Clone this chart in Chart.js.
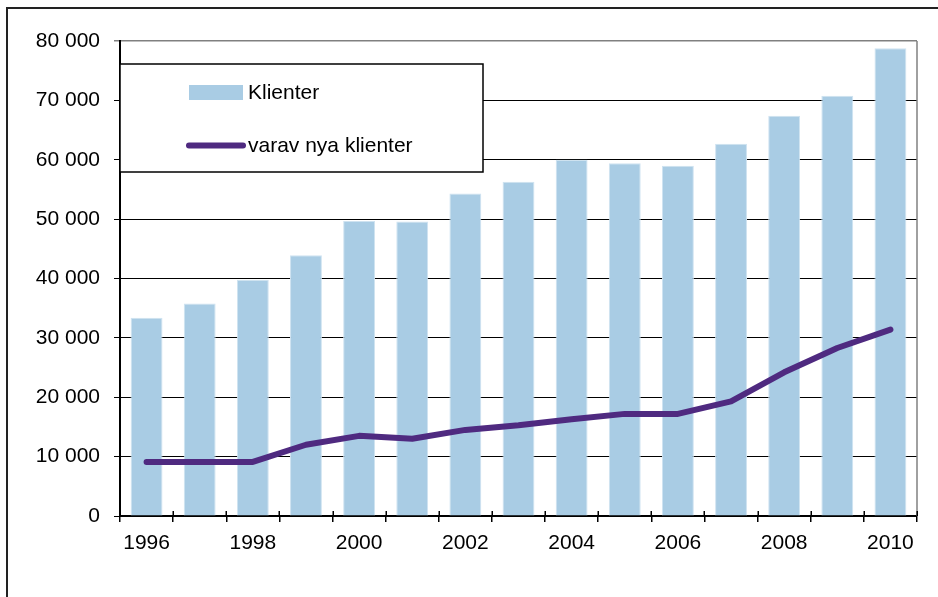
<!DOCTYPE html>
<html>
<head>
<meta charset="utf-8">
<script src="https://cdn.jsdelivr.net/npm/chart.js@4/dist/chart.umd.min.js"></script>
<style>
	html, body { margin: 0; padding: 0; background: #fff; }
	#wrap { width: 938px; height: 597px; }
</style>
</head>
<body>
<div id="wrap"><canvas id="chart" width="938" height="597"></canvas></div>
<script>
// Data
// ================================================================================
let years = ["1996", "1997", "1998", "1999", "2000", "2001", "2002", "2003",
	"2004", "2005", "2006", "2007", "2008", "2009", "2010"];

let klienter = [33400, 35800, 39800, 43900, 49700, 49600, 54300, 56300,
	60000, 59400, 59000, 62700, 67400, 70800, 78800];

let nya_klienter = [9100, 9100, 9100, 12000, 13500, 13000, 14500, 15300,
	16300, 17200, 17200, 19300, 24200, 28300, 31400];

let bar_color = "#a9cce4";
let line_color = "#4f2a80";
let font_family = "'Liberation Sans', Arial, sans-serif";

// Plugins
// ================================================================================
let frame_plugin = {
	id: "frame",
	afterDraw(chart) {
		let ctx = chart.ctx;
		let area = chart.chartArea;
		ctx.save();
		// outer frame, runs off the right and bottom edge
		ctx.strokeStyle = "#222";
		ctx.lineWidth = 2;
		ctx.strokeRect(7, 8, 1000, 1000);
		// grey plot border on the right
		ctx.strokeStyle = "#808080";
		ctx.lineWidth = 1.5;
		ctx.beginPath();
		ctx.moveTo(area.right, area.top);
		ctx.lineTo(area.right, area.bottom);
		ctx.stroke();
		// x tick marks cross the axis line
		ctx.strokeStyle = "#000";
		ctx.lineWidth = 1.5;
		let n = chart.data.labels.length;
		let step = (area.right - area.left) / n;
		ctx.beginPath();
		for (let i = 0; i <= n; i++) {
			let x = Math.round(area.left + i * step) + 0.25;
			ctx.moveTo(x, area.bottom - 5);
			ctx.lineTo(x, area.bottom);
		}
		ctx.stroke();
		ctx.restore();
	}
};

let box_legend_plugin = {
	id: "boxLegend",
	afterDraw(chart) {
		let ctx = chart.ctx;
		let sets = chart.data.datasets;
		let bar_set = sets.find((d) => d.type === "bar");
		let line_set = sets.find((d) => d.type === "line");
		ctx.save();
		ctx.fillStyle = "#fff";
		ctx.fillRect(120, 64, 363, 108);
		ctx.strokeStyle = "#000";
		ctx.lineWidth = 1.5;
		ctx.strokeRect(120, 64, 363, 108);

		ctx.font = "21px " + font_family;
		ctx.textBaseline = "middle";
		ctx.textAlign = "left";

		// bar entry
		ctx.fillStyle = bar_color;
		ctx.fillRect(189, 85, 54, 15);
		ctx.fillStyle = "#000";
		ctx.fillText(bar_set.label, 248, 93);

		// line entry
		ctx.strokeStyle = line_color;
		ctx.lineWidth = 6;
		ctx.lineCap = "round";
		ctx.beginPath();
		ctx.moveTo(189, 145.5);
		ctx.lineTo(243, 145.5);
		ctx.stroke();
		ctx.fillText(line_set.label, 248, 146);
		ctx.restore();
	}
};

// Chart
// ================================================================================
let chart = new Chart(document.getElementById("chart"), {
	type: "bar",
	data: {
		labels: years,
		datasets: [{
			type: "line",
			label: "varav nya klienter",
			data: nya_klienter,
			borderColor: line_color,
			backgroundColor: line_color,
			borderWidth: 6,
			borderCapStyle: "round",
			borderJoinStyle: "round",
			pointRadius: 0,
			tension: 0,
			order: 0
		}, {
			type: "bar",
			label: "Klienter",
			data: klienter,
			backgroundColor: bar_color,
			borderColor: "#cfe3f1",
			borderWidth: 1,
			barPercentage: 0.6,
			categoryPercentage: 1,
			order: 1
		}]
	},
	options: {
		responsive: false,
		animation: false,
		layout: { padding: { top: 41, right: 21, left: 0, bottom: 0 } },
		plugins: {
			legend: { display: false },
			tooltip: { enabled: false }
		},
		scales: {
			x: {
				afterFit: (scale) => { scale.height = 81; },
				grid: {
					drawOnChartArea: false,
					drawTicks: true,
					tickLength: 6,
					color: "#000",
					lineWidth: 1.5,
					offset: true
				},
				border: { color: "#000", width: 2 },
				ticks: {
					autoSkip: false,
					maxRotation: 0,
					padding: 9,
					color: "#000",
					font: { family: font_family, size: 21 },
					callback: (v, i) => (i % 2 === 0 ? years[i] : "")
				}
			},
			y: {
				min: 0,
				max: 80000,
				afterFit: (scale) => { scale.width = 120; },
				grid: {
					color: (c) => (c.tick && c.tick.value === 80000 ? "#808080" : "#000"),
					lineWidth: (c) => (c.tick && c.tick.value === 80000 ? 1.5 : 1),
					tickLength: 6
				},
				border: { color: "#000", width: 2 },
				ticks: {
					stepSize: 10000,
					padding: 14,
					color: "#000",
					font: { family: font_family, size: 21 },
					callback: (v) => v.toLocaleString("en-US").replace(",", " ")
				}
			}
		}
	},
	plugins: [frame_plugin, box_legend_plugin]
});
</script>
</body>
</html>
